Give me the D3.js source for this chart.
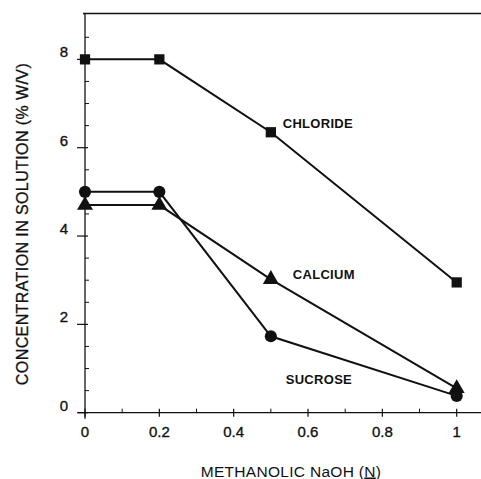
<!DOCTYPE html>
<html><head><meta charset="utf-8">
<script src="https://cdn.jsdelivr.net/npm/d3@7"></script>
<style>body{margin:0;background:#fff}svg{display:block}text{font-family:"Liberation Sans",Arial,sans-serif;fill:#111}</style>
</head><body>
<script>
const xValues = [0, 0.2, 0.5, 1];
const chloride = [8.0, 8.0, 6.35, 2.95];
const calcium = [4.7, 4.7, 3.02, 0.55];
const sucrose = [5.0, 5.0, 1.73, 0.38];
const xTicks = [0, 0.2, 0.4, 0.6, 0.8, 1];
const xTickLabels = ["0", "0.2", "0.4", "0.6", "0.8", "1"];
const yTicks = [0, 2, 4, 6, 8];
const seriesNames = ["CHLORIDE", "CALCIUM", "SUCROSE"];

const W = 481, H = 479;
const svg = d3.select("body").append("svg").attr("width", W).attr("height", H);
const x = d3.scaleLinear().domain([0, 1.06]).range([85, 479]);
const y = d3.scaleLinear().domain([0, 9]).range([412.7, 15.2]);
const ink = "#111";
const topY = 13.5;

// top frame line
svg.append("line").attr("x1", 83).attr("x2", 481).attr("y1", topY).attr("y2", topY)
  .attr("stroke", ink).attr("stroke-width", 1.3);

// x axis
const gx = svg.append("g").attr("transform", `translate(0,${y(0)})`);
gx.append("line").attr("x1", 78).attr("x2", 481).attr("stroke", ink).attr("stroke-width", 1.3);
const xMinor = [0.1, 0.3, 0.5, 0.7, 0.9];
gx.selectAll(".xm").data(xMinor).join("line")
  .attr("x1", d => x(d)).attr("x2", d => x(d)).attr("y1", 0).attr("y2", -4)
  .attr("stroke", ink).attr("stroke-width", 1);
gx.selectAll(".xM").data(xTicks).join("line")
  .attr("x1", d => x(d)).attr("x2", d => x(d)).attr("y1", -4).attr("y2", 4)
  .attr("stroke", ink).attr("stroke-width", 1.2);
gx.selectAll("text").data(xTicks).join("text")
  .attr("x", d => x(d)).attr("y", 24.5).attr("text-anchor", "middle")
  .attr("font-size", 15).attr("stroke", ink).attr("stroke-width", 0.35)
  .text((d, i) => xTickLabels[i]);

// y axis
const gy = svg.append("g").attr("transform", `translate(${x(0)},0)`);
gy.append("line").attr("y1", topY).attr("y2", y(0) + 6).attr("stroke", ink).attr("stroke-width", 1.3);
gy.selectAll(".ym").data(d3.range(0.5, 9, 0.5).filter(v => v % 2 !== 0)).join("line")
  .attr("y1", d => y(d)).attr("y2", d => y(d)).attr("x1", 0).attr("x2", 4)
  .attr("stroke", ink).attr("stroke-width", 1);
gy.selectAll(".yM").data(yTicks).join("line")
  .attr("y1", d => y(d)).attr("y2", d => y(d)).attr("x1", -8).attr("x2", 3)
  .attr("stroke", ink).attr("stroke-width", 1.2);
gy.selectAll("text").data(yTicks).join("text")
  .attr("x", -17).attr("y", d => y(d) - 2).attr("text-anchor", "end")
  .attr("font-size", 15).attr("stroke", ink).attr("stroke-width", 0.35)
  .text(d => d);

// axis titles
svg.append("text").attr("transform", "translate(28,224) rotate(-90)")
  .attr("text-anchor", "middle").attr("font-size", 16).attr("letter-spacing", 0.4)
  .attr("stroke", ink).attr("stroke-width", 0.3)
  .text("CONCENTRATION IN SOLUTION (% W/V)");
const xt = svg.append("text").attr("x", 291).attr("y", 476.5).attr("text-anchor", "middle")
  .attr("font-size", 15.5).attr("letter-spacing", 0.3);
xt.append("tspan").text("METHANOLIC NaOH (");
xt.append("tspan").attr("text-decoration", "underline").text("N");
xt.append("tspan").text(")");

// series
const line = d3.line().x((d, i) => x(xValues[i])).y(d => y(d));
const series = [chloride, calcium, sucrose];
const shapes = [d3.symbolSquare, d3.symbolTriangle, d3.symbolCircle];
const sizes = [105, 110, 115];
series.forEach((s, k) => {
  svg.append("path").datum(s).attr("d", line).attr("fill", "none")
    .attr("stroke", ink).attr("stroke-width", 2);
  svg.selectAll(".m" + k).data(s).join("path")
    .attr("transform", (d, i) => `translate(${x(xValues[i])},${y(d)})`)
    .attr("d", d3.symbol().type(shapes[k]).size(sizes[k])).attr("fill", ink);
});

// labels
const labelPos = [[0.532, 6.45], [0.559, 3.02], [0.54, 0.65]];
seriesNames.forEach((n, k) => {
  svg.append("text").attr("x", x(labelPos[k][0])).attr("y", y(labelPos[k][1]))
    .attr("font-size", 13).attr("font-weight", "bold").attr("letter-spacing", 0.3).text(n);
});
</script>
</body></html>
